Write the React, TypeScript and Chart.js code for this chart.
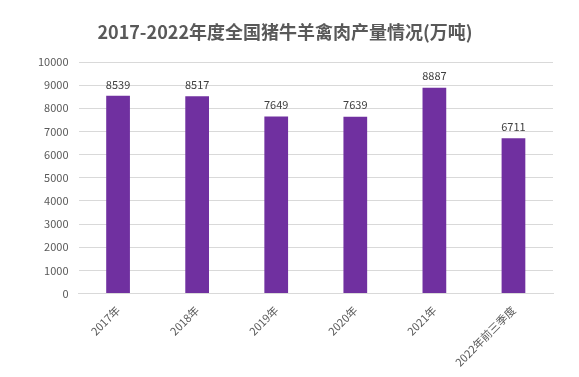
import React, { useEffect, useRef } from "react";
import { Chart, registerables } from "chart.js";

Chart.register(...registerables);

const categories = ["2017年", "2018年", "2019年", "2020年", "2021年", "2022年前三季度"];
const production = [8539, 8517, 7649, 7639, 8887, 6711];
const yMin = 0;
const yMax = 10000;
const yStep = 1000;
const titleText = "2017-2022年度全国猪牛羊禽肉产量情况(万吨)";

const FONT = "'Noto Sans CJK SC', 'Noto Sans', sans-serif";

const valueLabels = {
  id: "valueLabels",
  afterDatasetsDraw(chart: any) {
    const ctx = chart.ctx;
    const meta = chart.getDatasetMeta(0);
    ctx.save();
    ctx.font = `11px ${FONT}`;
    ctx.fillStyle = "#404040";
    ctx.textAlign = "center";
    ctx.textBaseline = "bottom";
    meta.data.forEach((bar: any, i: number) => {
      ctx.fillText(String(production[i]), bar.x, bar.y - 6);
    });
    ctx.restore();
  },
};

const titlePlugin = {
  id: "customTitle",
  afterDraw(chart: any) {
    const ctx = chart.ctx;
    ctx.save();
    ctx.font = `bold 18px ${FONT}`;
    ctx.fillStyle = "#595959";
    ctx.textAlign = "center";
    ctx.textBaseline = "middle";
    ctx.fillText(titleText, 285, 32);
    ctx.restore();
  },
};

export default function App() {
  const ref = useRef<HTMLCanvasElement>(null);
  useEffect(() => {
    const chart = new Chart(ref.current!, {
      type: "bar",
      data: {
        labels: categories,
        datasets: [
          {
            data: production,
            backgroundColor: "#7030A0",
            barPercentage: 0.3,
            categoryPercentage: 1,
          },
        ],
      },
      options: {
        animation: false,
        responsive: false,
        maintainAspectRatio: false,
        layout: { padding: { left: 28, right: 26, top: 62, bottom: 6 } },
        plugins: {
          legend: { display: false },
          tooltip: { enabled: false },
          title: { display: false },
        },
        scales: {
          x: {
            grid: { display: false },
            border: { color: "#d9d9d9" },
            ticks: {
              color: "#595959",
              font: { family: FONT, size: 11 },
              maxRotation: 45,
              minRotation: 45,
              padding: 2,
            },
          },
          y: {
            min: yMin,
            max: yMax,
            ticks: {
              stepSize: yStep,
              color: "#595959",
              font: { family: FONT, size: 11 },
              padding: 10,
              callback: (v: any) => String(v),
            },
            grid: { color: "#d9d9d9", drawTicks: false },
            border: { display: false },
          },
        },
      },
      plugins: [valueLabels, titlePlugin],
    });
    return () => chart.destroy();
  }, []);
  return (
    <div style={{ position: "absolute", left: 0, top: 0, width: 579, height: 377, background: "#fff" }}>
      <canvas ref={ref} width={579} height={377} style={{ width: 579, height: 377 }} />
    </div>
  );
}
